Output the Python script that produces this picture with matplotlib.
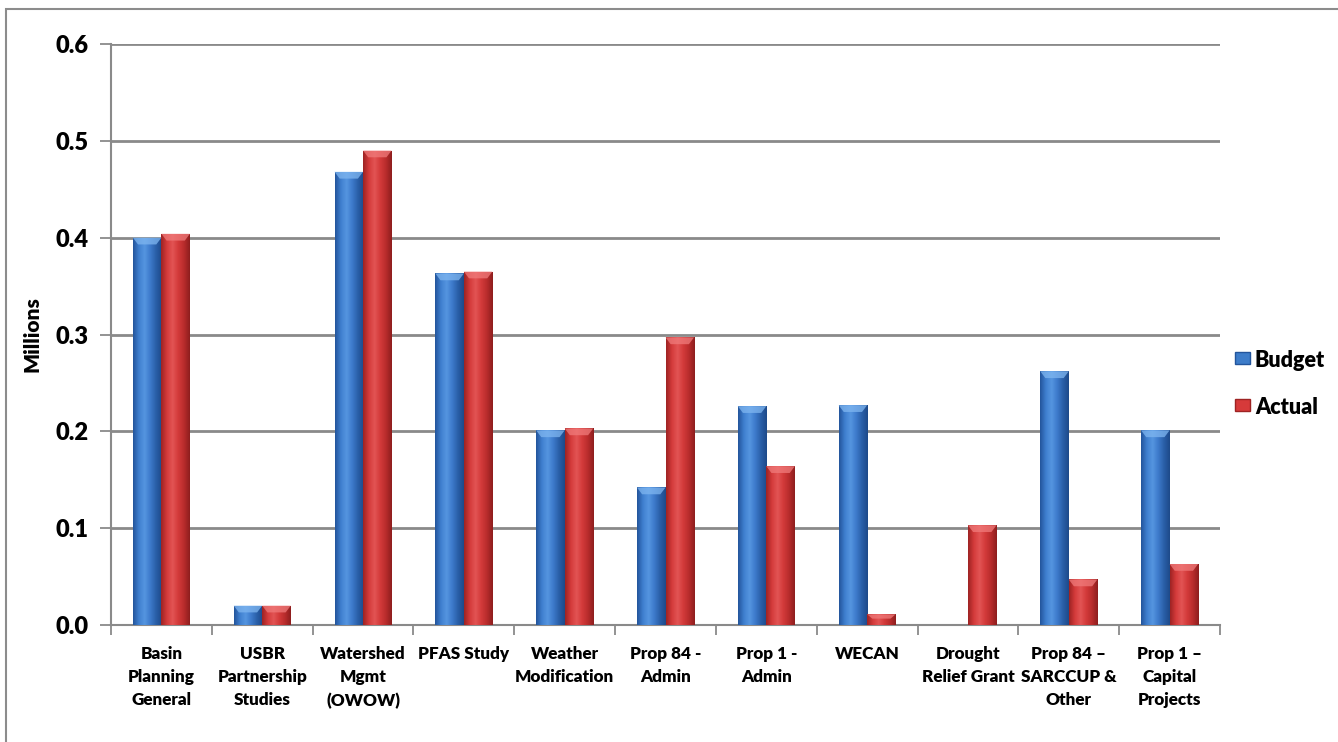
import numpy as np
import matplotlib
matplotlib.use("Agg")
import matplotlib.pyplot as plt
from matplotlib.colors import LinearSegmentedColormap
from matplotlib.patches import Rectangle, Polygon

W, H = 1338, 742
plt.rcParams['font.family'] = 'Lato'
plt.rcParams['font.weight'] = 800

# Budget vs actual by program (millions)
categories = [
    "Basin\nPlanning\nGeneral",
    "USBR\nPartnership\nStudies",
    "Watershed\nMgmt\n(OWOW)",
    "PFAS Study",
    "Weather\nModification",
    "Prop 84 -\nAdmin",
    "Prop 1 -\nAdmin",
    "WECAN",
    "Drought\nRelief Grant",
    "Prop 84 \u2013\nSARCCUP &\nOther",
    "Prop 1 \u2013\nCapital\nProjects",
]
series = ["Budget", "Actual"]
budget = [0.400, 0.020, 0.468, 0.363, 0.201, 0.142, 0.226, 0.227, 0.0, 0.262, 0.201]
actual = [0.404, 0.020, 0.490, 0.365, 0.203, 0.297, 0.164, 0.011, 0.103, 0.047, 0.063]
yticks = [0.0, 0.1, 0.2, 0.3, 0.4, 0.5, 0.6]

blue_map = LinearSegmentedColormap.from_list(
    "blue_bar", ["#23559c", "#3f7fcf", "#5595e0", "#3d7acb", "#2a5fa8", "#1e4a8a"])
red_map = LinearSegmentedColormap.from_list(
    "red_bar", ["#9e2323", "#d43b3b", "#e25454", "#d33a3a", "#b82c2c", "#8e1e1e"])

fig = plt.figure(figsize=(W / 100, H / 100), dpi=100)
fig.patches.append(Rectangle((6 / W, -0.1), 1.2, (H - 9) / H + 0.1,
                             transform=fig.transFigure, fill=False,
                             edgecolor="#8c8c8c", linewidth=1.5))

ax = fig.add_axes([111 / W, (H - 625) / H, 1109 / W, 581 / H])

x = np.arange(len(categories))
width = 0.283
b_bars = ax.bar(x - width / 2, budget, width, color="#3d7cc9", zorder=2)
a_bars = ax.bar(x + width / 2, actual, width, color="#d63a3a", zorder=2)

grad = np.linspace(0, 1, 64).reshape(1, -1)


def shade(bars, cmap, cap_color):
    for p in bars:
        h = p.get_height()
        if h <= 0:
            p.set_visible(False)
            continue
        x0 = p.get_x()
        w = p.get_width()
        im = ax.imshow(grad, cmap=cmap, extent=(x0, x0 + w, 0, h),
                       aspect="auto", zorder=3, interpolation="bilinear")
        im.set_clip_path(p)
        cap = min(0.007, h * 0.4)
        ax.add_patch(Polygon([(x0, h), (x0 + w, h), (x0 + w * 0.82, h - cap),
                              (x0 + w * 0.18, h - cap)],
                             closed=True, facecolor=cap_color, edgecolor="none",
                             alpha=0.75, zorder=4))


shade(b_bars, blue_map, "#7fb6f0")
shade(a_bars, red_map, "#f07b7b")

ax.set_xlim(-0.5, len(categories) - 0.5)
ax.set_ylim(0, 0.6)
ax.set_yticks(yticks)
ax.set_yticklabels([f"{v:.1f}" for v in yticks], fontsize=17, fontweight=800)
ax.yaxis.grid(True, color="#8a8a8a", linewidth=2, zorder=0)
ax.set_axisbelow(True)

ax.set_xticks(x)
ax.set_xticklabels(categories, fontsize=12.3, fontweight=800, linespacing=1.55,
                   va="top")
ax.tick_params(axis="x", length=0, pad=15)
ax.set_xticks(np.arange(-0.5, len(categories)), minor=True)
ax.tick_params(axis="x", which="minor", length=7, color="#8a8a8a", width=1.3)
ax.tick_params(axis="y", length=8, color="#8a8a8a", width=1.3, pad=8)

for s in ["top", "right"]:
    ax.spines[s].set_visible(False)
for s in ["left", "bottom"]:
    ax.spines[s].set_color("#8a8a8a")
    ax.spines[s].set_linewidth(1.5)

fig.text(32 / W, 1 - 334 / H, "Millions", rotation=90, ha="center", va="center",
         fontsize=15, fontweight=800)

# legend: small squares with labels, to the right of the plot
key_colors = [("#3d7cc9", "#23559c"), ("#d63a3a", "#9e2323")]
for i, (name, (fc, ec)) in enumerate(zip(series, key_colors)):
    yc = 358 + i * 47
    fig.patches.append(Rectangle((1235 / W, 1 - (yc + 6) / H), 15 / W, 12 / H,
                                 transform=fig.transFigure, facecolor=fc,
                                 edgecolor=ec, linewidth=1))
    fig.text(1255 / W, 1 - yc / H, name, ha="left", va="center_baseline",
             fontsize=15.5, fontweight=800)

fig.savefig("out.png", dpi=100)
